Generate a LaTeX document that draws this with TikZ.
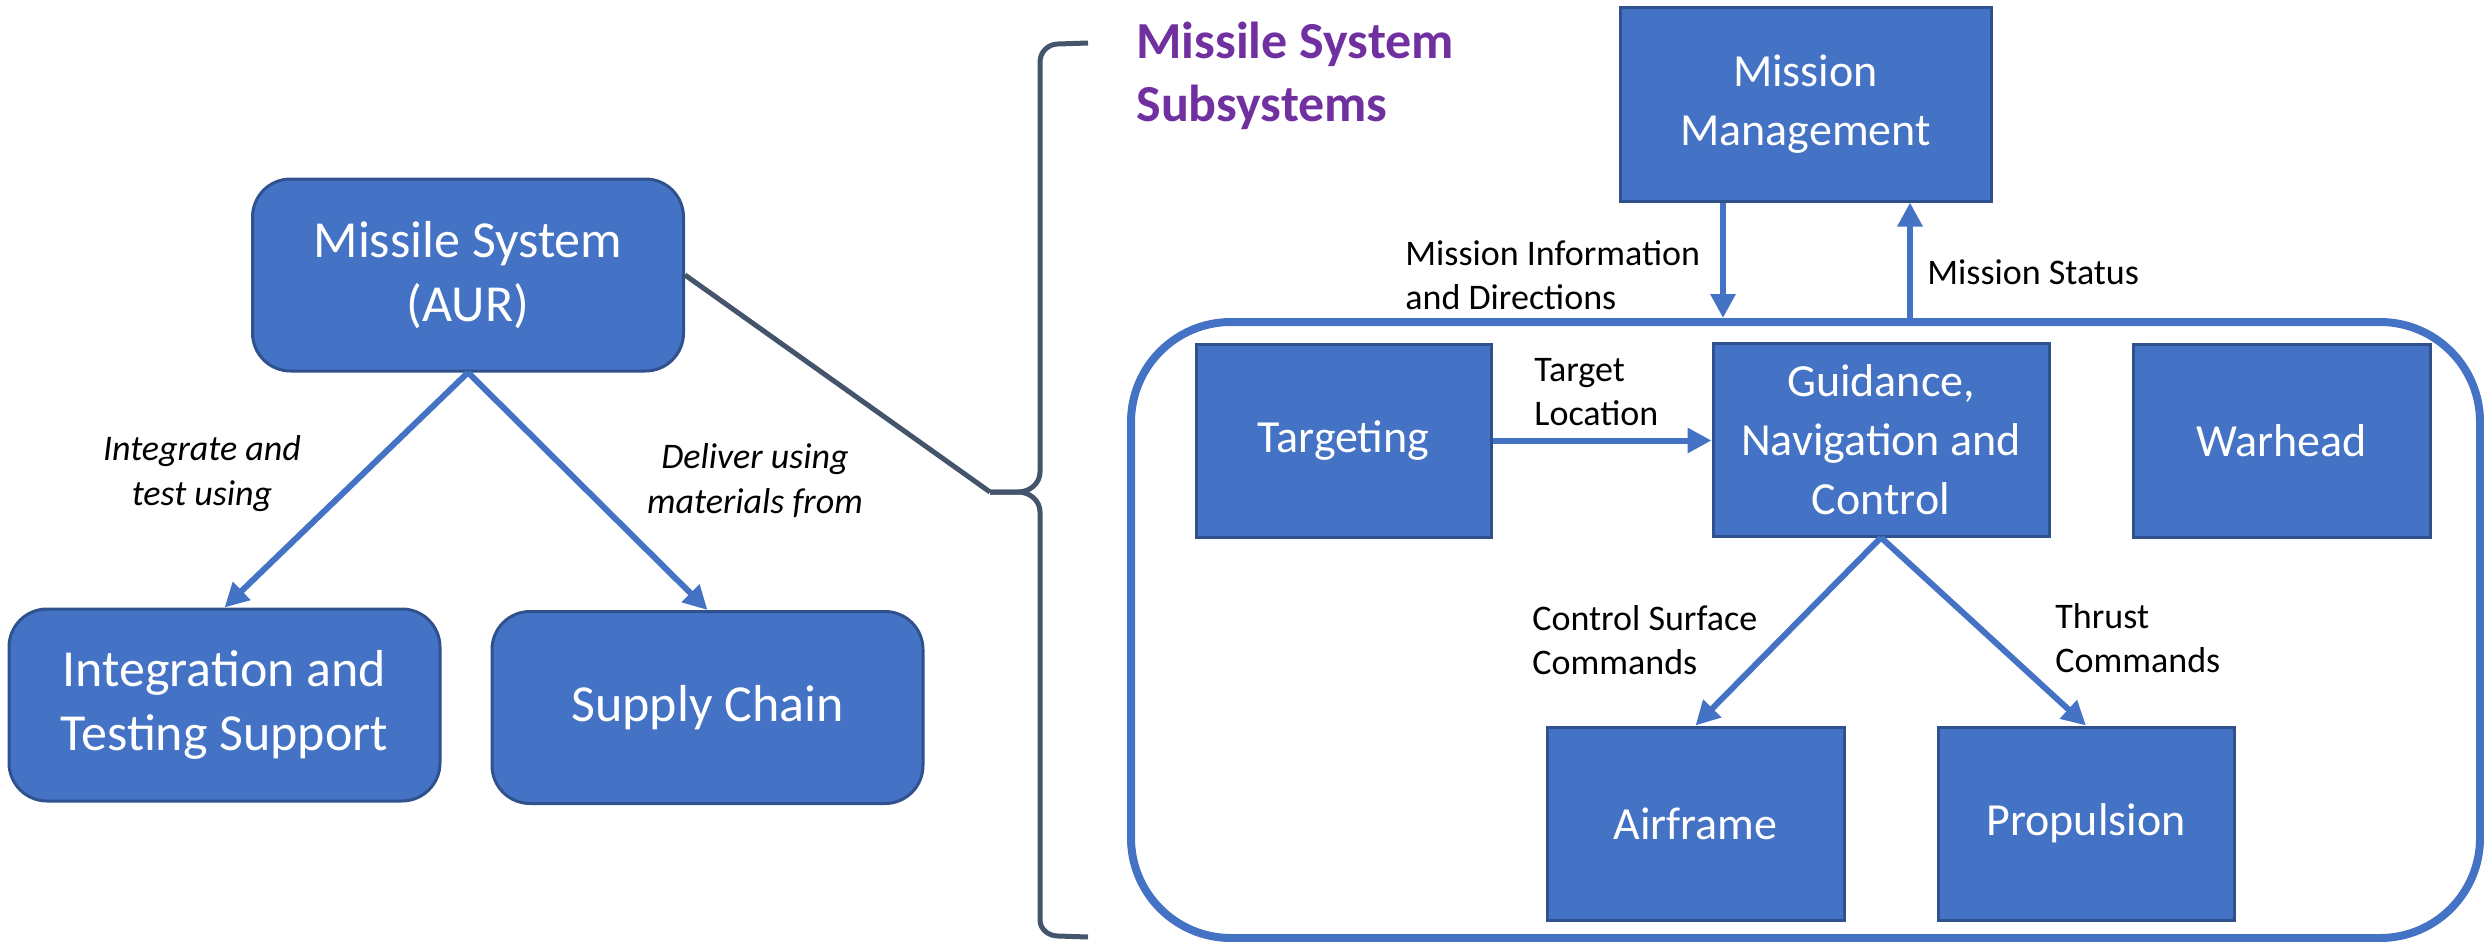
\documentclass[tikz,border=0pt]{standalone}
\usepackage{fontspec}
\setmainfont{Carlito}
\usepackage{xcolor}
\usetikzlibrary{positioning}
\usetikzlibrary{arrows.meta}
\definecolor{office}{HTML}{4472C4}
\definecolor{boxline}{HTML}{2F528F}
\definecolor{slate}{HTML}{44546A}
\definecolor{heading}{HTML}{7030A0}
\tikzset{
	box/.style={
		draw=boxline,
		line width=1.5pt,
		fill=office,
		text=white,
		align=center,
		inner sep=0pt},
	aur/.style={box,
		rounded corners=19pt,
		minimum width=215.5pt,
		minimum height=96pt,
		font=\fontsize{26}{32}\selectfont},
	part/.style={box,
		minimum height=96.5pt,
		font=\fontsize{23}{29.5}\selectfont},
	flow/.style={
		draw=office,
		line width=3pt,
		-{Triangle[length=12pt,width=12pt]}},
	lbl/.style={
		anchor=west,
		align=left,
		inner sep=0pt,
		font=\fontsize{18}{22}\selectfont},
	note/.style={
		align=center,
		inner sep=0pt,
		font=\fontsize{18}{22.5}\selectfont\itshape},
	brace/.style={
		draw=slate,
		line width=2.5pt}
}

\begin{document}
\begin{tikzpicture}[x=0.5pt,y=-0.5pt]
			\useasboundingbox (0,0) rectangle (2484,942);
			% missile system and its support
			\node[aur] (ms) at (468,275) {Missile System\\(AUR)};
			\node[aur] (its) at (224.5,705) {Integration and\\Testing Support};
			\node[aur] (sc) at (707.5,707.5) {Supply Chain};
			\draw[flow] (ms.south) -- (its.north);
			\draw[flow] (ms.south) -- (sc.north);
			\node[note] (n1) at (202,474) {Integrate and\\test using};
			\node[note] (n2) at (755,481) {Deliver using\\materials from};
			% brace
			\coordinate (tip) at (990,492);
			\draw[brace] (ms.east) -- (tip);
			\draw[brace] (1088,43) -- (1058,44) to[out=180,in=90] (1040,62) -- (1040,472) to[out=-90,in=0] (1018,492) -- (tip);
			\draw[brace] (tip) -- (1018,492) to[out=0,in=90] (1040,512) -- (1040,920) to[out=-90,in=180] (1058,936) -- (1088,937);
			% subsystems
			\node[anchor=west, align=left, inner sep=0pt, text=heading, font=\fontsize{26}{31.5}\selectfont\bfseries] (title) at (1136,76) {Missile System\\Subsystems};
			\node[draw=office, line width=4pt, rounded corners=50pt, minimum width=674.5pt, minimum height=308pt] (subs) at (1805.5,630) {};
			\node[part, minimum width=185.5pt, minimum height=97pt] (mm) at (1805.5,104) {Mission\\Management};
			\node[part, minimum width=147.5pt] (tg) at (1343.5,440.5) {Targeting};
			\node[part, minimum width=168pt] (gnc) at (1881,439.5) {Guidance,\\Navigation and\\Control};
			\node[part, minimum width=148.5pt] (wh) at (2281.5,440.5) {Warhead};
			\node[part, minimum width=148.5pt] (af) at (1695.5,823.5) {Airframe};
			\node[part, minimum width=148pt] (pr) at (2086,823.5) {Propulsion};
			\draw[flow] ([xshift=-41.25pt]mm.south) -- ([xshift=-41.25pt]mm.south |- subs.north);
			\draw[flow] ([xshift=52.25pt]mm.south |- subs.north) -- ([xshift=52.25pt]mm.south);
			\draw[flow] (tg.east) -- (tg.east -| gnc.west);
			\draw[flow] (gnc.south) -- (af.north);
			\draw[flow] (gnc.south) -- (pr.north);
			\node[lbl] (l1) at (1405,275) {Mission Information\\and Directions};
			\node[lbl] (l2) at (1927,272) {Mission Status};
			\node[lbl] (l3) at (1534,392) {Target\\Location};
			\node[lbl] (l4) at (1532,640) {Control Surface\\Commands};
			\node[lbl] (l5) at (2055,638) {Thrust\\Commands};
		\end{tikzpicture}
\end{document}
